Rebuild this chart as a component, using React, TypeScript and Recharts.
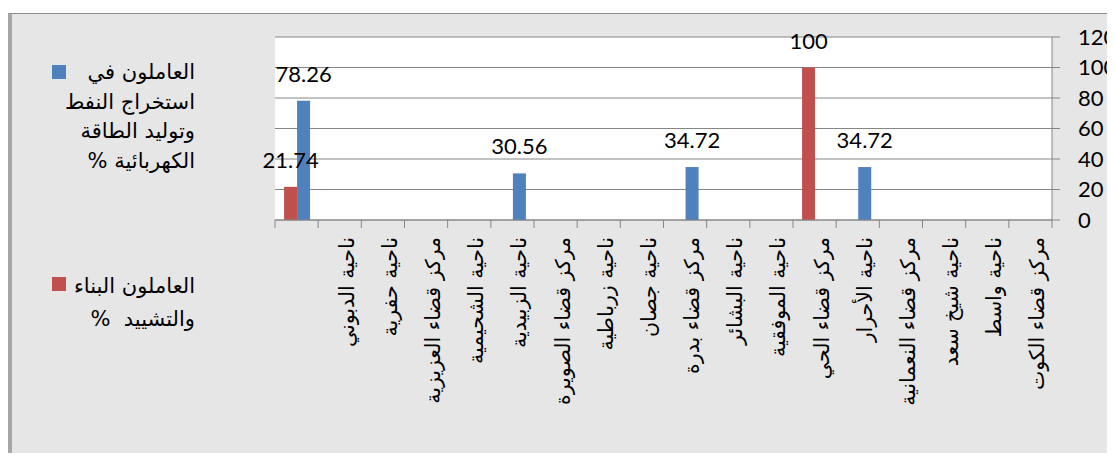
import { Bar, BarChart, CartesianGrid, LabelList, XAxis, YAxis } from "recharts"

const districts = [
  "",
  "ناحية الدبوني",
  "ناحية حفرية",
  "مركز قضاء العزيزية",
  "ناحية الشحيمية",
  "ناحية الزبيدية",
  "مركز قضاء الصويرة",
  "ناحية زرباطية",
  "ناحية جصان",
  "مركز قضاء بدرة",
  "ناحية البشائر",
  "ناحية الموفقية",
  "مركز قضاء الحي",
  "ناحية الأحرار",
  "مركز قضاء النعمانية",
  "ناحية شيخ سعد",
  "ناحية واسط",
  "مركز قضاء الكوت",
]

// construction workers %
const construction = [21.74, null, null, null, null, null, null, null, null, null, null, null, 100, null, null, null, null, null]
// oil extraction & power generation workers %
const oilPower = [78.26, null, null, null, null, 30.56, null, null, null, 34.72, null, null, null, 34.72, null, null, null, null]

const yTicks = [0, 20, 40, 60, 80, 100, 120]

const constructionName = ["العاملون البناء", "والتشييد  %"]
const oilPowerName = ["العاملون في", "استخراج النفط", "وتوليد الطاقة", "الكهربائية %"]

const RED = "#C0504D"
const BLUE = "#4F81BD"
const GRID = "#868686"
const ARABIC = "'DejaVu Sans', sans-serif"
const NUM = "Lato, 'Open Sans', sans-serif"

const data = districts.map((name, i) => ({
  name,
  construction: construction[i],
  oilPower: oilPower[i],
}))

function DistrictTick(props: any) {
  const { x, y, payload, index, width } = props
  const band = (width || 777) / districts.length
  const left = x - band / 2
  const tx = x + 14
  const ty = y + 17
  return (
    <g>
      <line x1={left} y1={y} x2={left} y2={y + 8} stroke={GRID} />
      {index === districts.length - 1 && (
        <line x1={x + band / 2} y1={y} x2={x + band / 2} y2={y + 8} stroke={GRID} />
      )}
      <text
        x={tx}
        y={ty}
        transform={`rotate(-90, ${tx}, ${ty})`}
        textAnchor="end"
        fontSize={20.5}
        fontFamily={ARABIC}
        fill="#000"
      >
        {payload.value}
      </text>
    </g>
  )
}

function ValueLabel(props: any) {
  const { x, y, width, value } = props
  if (value == null) return null
  return (
    <text x={x + width / 2} y={y - 19} textAnchor="middle" fontSize={22} fontFamily={NUM} fill="#000">
      {value}
    </text>
  )
}

function LegendItem({ color, lines, top, lineHeight }: { color: string; lines: string[]; top: number; lineHeight: number }) {
  return (
    <div style={{ position: "absolute", left: 52, top, width: 143 }}>
      <div style={{ position: "absolute", left: 0, top: 7, width: 14, height: 14, background: color }} />
      <div
        style={{
          direction: "rtl",
          textAlign: "right",
          fontFamily: ARABIC,
          fontSize: 21,
          lineHeight: `${lineHeight}px`,
          color: "#000",
          whiteSpace: "pre",
        }}
      >
        {lines.map((l, i) => (
          <div key={i}>{l}</div>
        ))}
      </div>
    </div>
  )
}

export default function App() {
  return (
    <div style={{ position: "relative", width: 1115, height: 461, margin: -8, background: "#fff", overflow: "hidden" }}>
      <div
        style={{
          position: "absolute",
          left: 8,
          top: 13,
          width: 1115,
          height: 444,
          background: "#e6e6e6",
          borderTop: "1px solid #8a8a8a",
          borderLeft: "4px solid #a6a6a6",
          borderBottom: "2px solid #b0b0b0",
          boxSizing: "border-box",
        }}
      />
      <div style={{ position: "absolute", left: 0, top: 0 }}>
        <BarChart
          width={1115}
          height={461}
          data={data}
          margin={{ top: 37, right: 13, bottom: 41, left: 275 }}
          barCategoryGap="21%"
          barGap={0}
        >
          <CartesianGrid vertical={false} stroke={GRID} fill="#fff" />
          <XAxis
            dataKey="name"
            interval={0}
            height={200}
            tickLine={false}
            tickSize={0}
            tickMargin={0}
            axisLine={{ stroke: GRID }}
            tick={<DistrictTick />}
          />
          <YAxis
            orientation="right"
            width={50}
            domain={[0, 120]}
            ticks={yTicks}
            interval={0}
            tickSize={8}
            tickMargin={18}
            axisLine={{ stroke: GRID }}
            tickLine={{ stroke: GRID }}
            tick={{ fontSize: 22, fontFamily: NUM, fill: "#000" }}
          />
          <Bar dataKey="construction" name={constructionName.join(" ")} fill={RED} isAnimationActive={false}>
            <LabelList dataKey="construction" content={<ValueLabel />} />
          </Bar>
          <Bar dataKey="oilPower" name={oilPowerName.join(" ")} fill={BLUE} isAnimationActive={false}>
            <LabelList dataKey="oilPower" content={<ValueLabel />} />
          </Bar>
        </BarChart>
      </div>
      <LegendItem color={BLUE} lines={oilPowerName} top={58} lineHeight={29.5} />
      <LegendItem color={RED} lines={constructionName} top={270} lineHeight={33} />
    </div>
  )
}
